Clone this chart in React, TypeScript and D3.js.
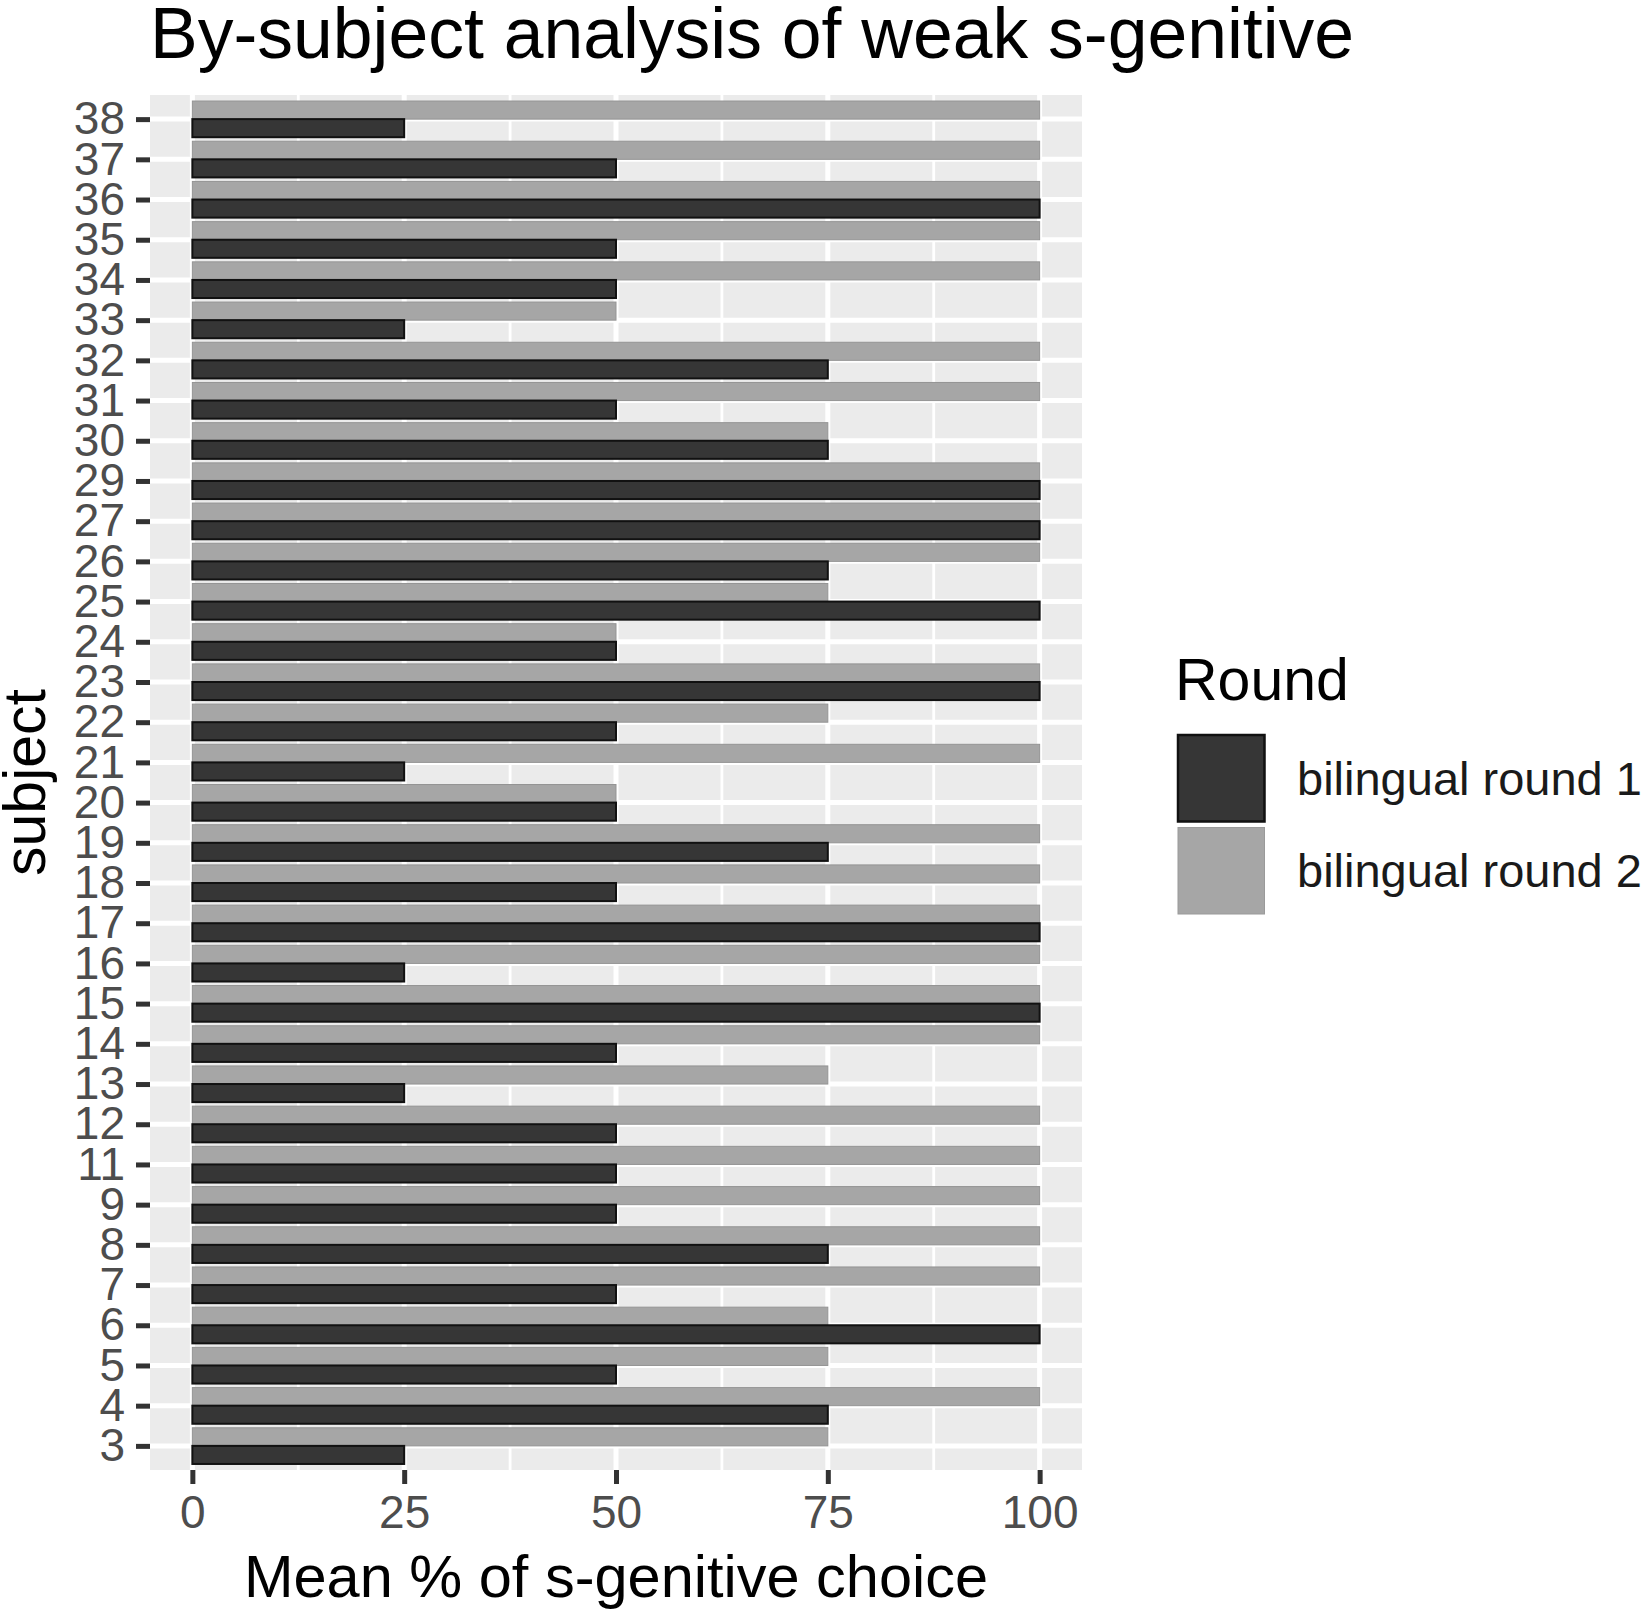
import React, { useRef, useEffect } from 'react';
import * as d3 from 'd3';

// subjects from bottom to top, as on the axis
const subjects = ['3', '4', '5', '6', '7', '8', '9', '11', '12', '13', '14', '15', '16', '17', '18', '19', '20', '21', '22', '23', '24', '25', '26', '27', '29', '30', '31', '32', '33', '34', '35', '36', '37', '38'];
const round1 = [25, 75, 50, 100, 50, 75, 50, 50, 50, 25, 50, 100, 25, 100, 50, 75, 50, 25, 50, 100, 50, 100, 75, 100, 100, 75, 50, 75, 25, 50, 50, 100, 50, 25];
const round2 = [75, 100, 75, 75, 100, 100, 100, 100, 100, 75, 100, 100, 100, 100, 100, 100, 50, 100, 75, 100, 50, 75, 100, 100, 100, 75, 100, 100, 50, 100, 100, 100, 100, 100];
const roundLabels = ['bilingual round 1', 'bilingual round 2'];
const xTicks = [0, 25, 50, 75, 100];
const xMinor = [12.5, 37.5, 62.5, 87.5];

const BarChart = () => {
  const chartRef = useRef(null);

  useEffect(() => {
    const svg = d3.select(chartRef.current);
    svg.selectAll('*').remove();
    const font = '"Liberation Sans", Arial, sans-serif';
    const fills = ['#363636', '#a6a6a6'];
    const panel = { left: 150, right: 1082, top: 95, bottom: 1470 };

    const x = d3.scaleLinear().domain([-5, 105]).range([panel.left, panel.right]);
    const y = d3.scalePoint()
      .domain(subjects.slice().reverse())
      .range([panel.top, panel.bottom])
      .padding(0.6);
    const bh = y.step() * 0.45;

    svg.append('rect')
      .attr('x', panel.left).attr('y', panel.top)
      .attr('width', panel.right - panel.left).attr('height', panel.bottom - panel.top)
      .attr('fill', '#ebebeb');

    const grid = svg.append('g').attr('stroke', '#fff');
    grid.selectAll('.minor').data(xMinor).enter().append('line')
      .attr('x1', (d) => x(d)).attr('x2', (d) => x(d))
      .attr('y1', panel.top).attr('y2', panel.bottom)
      .attr('stroke-width', 2.8);
    grid.selectAll('.major').data(xTicks).enter().append('line')
      .attr('x1', (d) => x(d)).attr('x2', (d) => x(d))
      .attr('y1', panel.top).attr('y2', panel.bottom)
      .attr('stroke-width', 5);
    grid.selectAll('.hmajor').data(subjects).enter().append('line')
      .attr('x1', panel.left).attr('x2', panel.right)
      .attr('y1', (d) => y(d)).attr('y2', (d) => y(d))
      .attr('stroke-width', 5);

    // round 2 sits above the tick, round 1 below
    const bars = svg.append('g');
    bars.selectAll('.r2').data(subjects).enter().append('rect')
      .attr('x', x(0))
      .attr('y', (d) => y(d) - bh)
      .attr('width', (d, i) => x(round2[i]) - x(0))
      .attr('height', bh)
      .attr('fill', fills[1])
      .attr('stroke', '#949494')
      .attr('stroke-width', 1);
    bars.selectAll('.r1').data(subjects).enter().append('rect')
      .attr('x', x(0))
      .attr('y', (d) => y(d))
      .attr('width', (d, i) => x(round1[i]) - x(0))
      .attr('height', bh)
      .attr('fill', fills[0])
      .attr('stroke', '#111')
      .attr('stroke-width', 2);

    const xAxis = svg.append('g')
      .attr('transform', `translate(0,${panel.bottom})`)
      .call(d3.axisBottom(x).tickValues(xTicks).tickSize(14).tickPadding(11));
    const yAxis = svg.append('g')
      .attr('transform', `translate(${panel.left},0)`)
      .call(d3.axisLeft(y).tickSize(14).tickPadding(11));
    [xAxis, yAxis].forEach((ax) => {
      ax.select('.domain').remove();
      ax.selectAll('line').attr('stroke', '#333').attr('stroke-width', 5);
      ax.selectAll('text')
        .attr('font-family', font).attr('font-size', 46).attr('fill', '#4d4d4d');
    });

    svg.append('text')
      .attr('x', panel.left).attr('y', 58)
      .attr('font-family', font).attr('font-size', 71.5)
      .text('By-subject analysis of weak s-genitive');
    svg.append('text')
      .attr('x', (panel.left + panel.right) / 2).attr('y', 1597)
      .attr('text-anchor', 'middle')
      .attr('font-family', font).attr('font-size', 59.5)
      .text('Mean % of s-genitive choice');
    svg.append('text')
      .attr('transform', `translate(45,${(panel.top + panel.bottom) / 2}) rotate(-90)`)
      .attr('text-anchor', 'middle')
      .attr('font-family', font).attr('font-size', 59)
      .text('subject');

    const legend = svg.append('g').attr('transform', 'translate(1175,0)');
    legend.append('text')
      .attr('x', 0).attr('y', 700)
      .attr('font-family', font).attr('font-size', 59)
      .text('Round');
    const key = 92.5;
    roundLabels.forEach((lab, i) => {
      const top = 732 + i * key;
      legend.append('rect')
        .attr('x', 3).attr('y', top + 3)
        .attr('width', key - 6).attr('height', key - 6)
        .attr('fill', fills[i])
        .attr('stroke', i === 0 ? '#111' : '#9a9a9a')
        .attr('stroke-width', i === 0 ? 2.5 : 1);
      legend.append('text')
        .attr('x', 122).attr('y', top + key / 2)
        .attr('dy', '0.35em')
        .attr('font-family', font).attr('font-size', 47).attr('fill', '#1a1a1a')
        .text(lab);
    });
  }, []);

  return (
    <svg ref={chartRef} width="1650" height="1621" style={{ display: 'block', background: '#fff' }}></svg>
  );
};

const App = () => (
  <div style={{ position: 'absolute', left: 0, top: 0 }}>
    <BarChart />
  </div>
);

export default App;
